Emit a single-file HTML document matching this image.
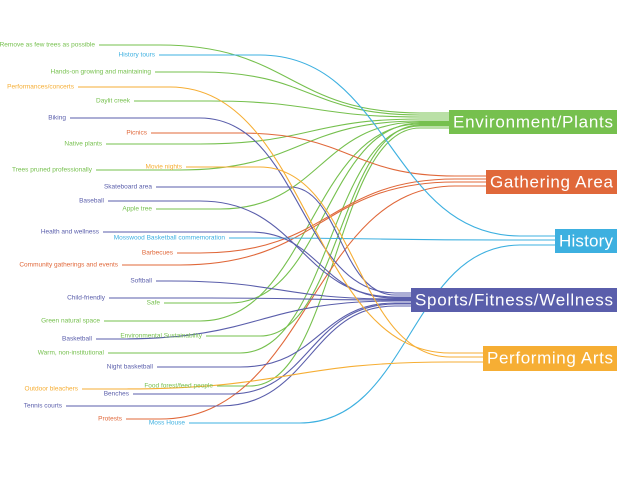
<!DOCTYPE html>
<html><head><meta charset="utf-8"><style>
body{margin:0;background:#fff;width:621px;height:480px;overflow:hidden}
svg text{font-family:"Liberation Sans",sans-serif}
.l{font-size:6.5px;text-anchor:end;dominant-baseline:middle}
.b{font-size:17px;fill:#fff;dominant-baseline:middle}
path{fill:none;stroke-width:1.1}
.g{stroke:#76c04e}.r{stroke:#e0683a}.u{stroke:#3db0e0}.p{stroke:#5a5eab}.o{stroke:#f6ae34}
</style></head><body>
<svg width="621" height="480" viewBox="0 0 621 480">
<path class="g" d="M99 45H160C290 45 290 113 420 113H449"/>
<path class="g" d="M155 72H200C310 72 310 115 420 115H449"/>
<path class="g" d="M134 101H210C315 101 315 117 420 117H449"/>
<path class="g" d="M106 144H200C310 144 310 119 420 119H449"/>
<path class="g" d="M96 170H180C300 170 300 121 420 121H449"/>
<path class="g" d="M156 209H220C320 209 320 122 420 122H449"/>
<path class="g" d="M164 303H230C325 303 325 123 420 123H449"/>
<path class="g" d="M104 321H200C310 321 310 124 420 124H449"/>
<path class="g" d="M206 336H260C340 336 340 125 420 125H449"/>
<path class="g" d="M108 353H240C330 353 330 126 420 126H449"/>
<path class="g" d="M217 386H250C335 386 335 128 420 128H449"/>
<path class="r" d="M151 133H240C350 133 350 176 455 176H486"/>
<path class="r" d="M177 253H200C330 253 330 179 455 179H486"/>
<path class="r" d="M122 265H180C320 265 320 182 455 182H486"/>
<path class="r" d="M126 419H160C310 419 310 186 455 186H486"/>
<path class="u" d="M159 55H260C390 55 390 236 520 236H555"/>
<path class="u" d="M229 238H240C380 238 380 240 520 240H555"/>
<path class="u" d="M189 423H300C410 423 410 245 520 245H555"/>
<path class="p" d="M70 118H200C300 118 300 293 395 293H411"/>
<path class="p" d="M156 187H290C340 187 340 295 395 295H411"/>
<path class="p" d="M108 201H200C300 201 300 297 395 297H411"/>
<path class="p" d="M103 232H250C320 232 320 298 395 298H411"/>
<path class="p" d="M156 281H170C280 281 280 299 395 299H411"/>
<path class="p" d="M109 298H210C300 298 300 300 395 300H411"/>
<path class="p" d="M96 339H120C260 339 260 301 395 301H411"/>
<path class="p" d="M157 367H240C320 367 320 303 395 303H411"/>
<path class="p" d="M133 394H230C310 394 310 304 395 304H411"/>
<path class="p" d="M66 406H220C310 406 310 306 395 306H411"/>
<path class="o" d="M78 87H170C310 87 310 353 450 353H483"/>
<path class="o" d="M186 167H260C355 167 355 357 450 357H483"/>
<path class="o" d="M82 389H120C290 389 290 362 450 362H483"/>
<g class="l">
<text x="95" y="45" fill="#76c04e">Remove as few trees as possible</text>
<text x="155" y="55" fill="#3db0e0">History tours</text>
<text x="151" y="72" fill="#76c04e">Hands-on growing and maintaining</text>
<text x="74" y="87" fill="#f6ae34">Performances/concerts</text>
<text x="130" y="101" fill="#76c04e">Daylit creek</text>
<text x="66" y="118" fill="#5a5eab">Biking</text>
<text x="147" y="133" fill="#e0683a">Picnics</text>
<text x="102" y="144" fill="#76c04e">Native plants</text>
<text x="182" y="167" fill="#f6ae34">Movie nights</text>
<text x="92" y="170" fill="#76c04e">Trees pruned professionally</text>
<text x="152" y="187" fill="#5a5eab">Skateboard area</text>
<text x="104" y="201" fill="#5a5eab">Baseball</text>
<text x="152" y="209" fill="#76c04e">Apple tree</text>
<text x="99" y="232" fill="#5a5eab">Health and wellness</text>
<text x="225" y="238" fill="#3db0e0">Mosswood Basketball commemoration</text>
<text x="173" y="253" fill="#e0683a">Barbecues</text>
<text x="118" y="265" fill="#e0683a">Community gatherings and events</text>
<text x="152" y="281" fill="#5a5eab">Softball</text>
<text x="105" y="298" fill="#5a5eab">Child-friendly</text>
<text x="160" y="303" fill="#76c04e">Safe</text>
<text x="100" y="321" fill="#76c04e">Green natural space</text>
<text x="202" y="336" fill="#76c04e">Environmental Sustainability</text>
<text x="92" y="339" fill="#5a5eab">Basketball</text>
<text x="104" y="353" fill="#76c04e">Warm, non-institutional</text>
<text x="153" y="367" fill="#5a5eab">Night basketball</text>
<text x="213" y="386" fill="#76c04e">Food forest/feed people</text>
<text x="78" y="389" fill="#f6ae34">Outdoor bleachers</text>
<text x="129" y="394" fill="#5a5eab">Benches</text>
<text x="62" y="406" fill="#5a5eab">Tennis courts</text>
<text x="122" y="419" fill="#e0683a">Protests</text>
<text x="185" y="423" fill="#3db0e0">Moss House</text>
</g>
<rect x="449" y="110" width="168" height="24" fill="#76c04e"/>
<text class="b" x="453" y="123" textLength="160">Environment/Plants</text>
<rect x="486" y="170" width="131" height="24" fill="#e0683a"/>
<text class="b" x="490" y="183" textLength="123">Gathering Area</text>
<rect x="555" y="229" width="62" height="24" fill="#3db0e0"/>
<text class="b" x="559" y="242" textLength="54">History</text>
<rect x="411" y="288" width="206" height="24" fill="#5a5eab"/>
<text class="b" x="415" y="301" textLength="198">Sports/Fitness/Wellness</text>
<rect x="483" y="346" width="134" height="25" fill="#f6ae34"/>
<text class="b" x="487" y="359" textLength="126">Performing Arts</text>
</svg>
</body></html>
